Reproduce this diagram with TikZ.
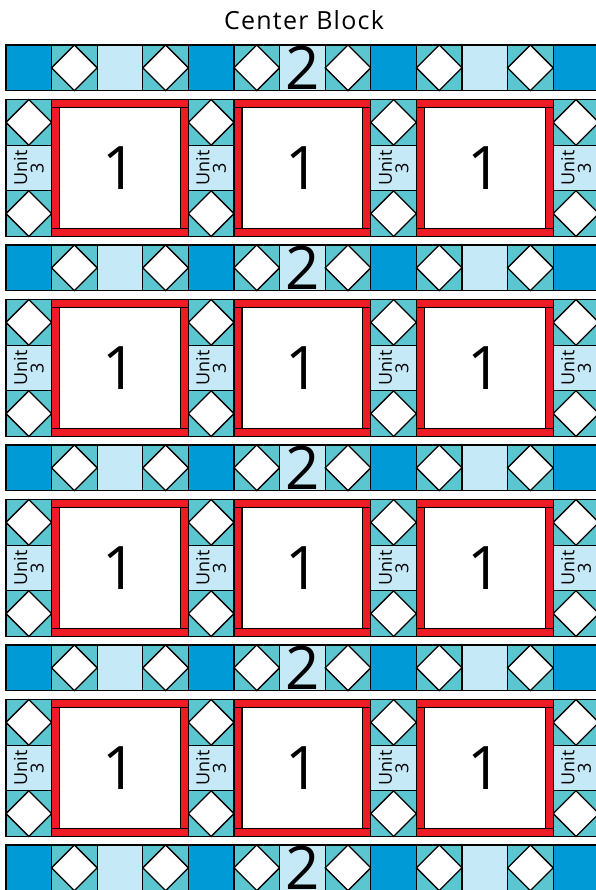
\documentclass[tikz,border=0pt]{standalone}
\usepackage{fontspec}
\setmainfont{Open Sans}
\definecolor{sashdark}{HTML}{009BD7}
\definecolor{sashlight}{HTML}{C6E9F8}
\definecolor{cornerteal}{HTML}{5BC6D0}
\definecolor{framered}{HTML}{ED1C24}

\newcommand{\cell}{45.6}
% teal square with white diamond, top left corner at (#1,#2)
\newcommand{\diamondcell}[2]{%
  \filldraw[patch, fill=cornerteal] (#1,#2) rectangle ++(\cell,\cell);
  \filldraw[patch, fill=white] (#1+\cell/2,#2) -- (#1+\cell,#2+\cell/2)
    -- (#1+\cell/2,#2+\cell) -- (#1,#2+\cell/2) -- cycle;}

\begin{document}
\begin{tikzpicture}[
        x=1pt, y=-1pt,
        patch/.style={draw=black, line width=1.3pt, line join=miter},
        title/.style={font=\fontsize{25}{27}\selectfont\addfontfeatures{LetterSpace=5}, anchor=base},
        numlabel/.style={font=\fontsize{60}{60}\selectfont, inner sep=0pt},
        unitlabel/.style={font=\fontsize{18}{16.5}\selectfont, align=center, rotate=90, inner sep=0pt}
        ]
        \useasboundingbox (0,0) rectangle (596,890);

        \node (title) [title] at (304,29.5) {Center Block};

        % sashing strips
        \foreach \k in {0,...,4} {
            \pgfmathsetmacro{\sy}{45+200*\k}
            \foreach \i in {0,...,12} {
                \pgfmathsetmacro{\sx}{6+\i*\cell}
                \pgfmathtruncatemacro{\m}{mod(\i,4)}
                \ifnum\m=0
                    \filldraw[patch, fill=sashdark] (\sx,\sy) rectangle ++(\cell,\cell);
                \else\ifnum\m=2
                    \filldraw[patch, fill=sashlight] (\sx,\sy) rectangle ++(\cell,\cell);
                \else
                    \diamondcell{\sx}{\sy}
                \fi\fi
            }
            \node (sash\k) [numlabel] at (6+6.5*\cell,\sy+\cell/2) {2};
        }

        % block rows
        \foreach \r in {0,...,3} {
            \pgfmathsetmacro{\by}{99.6+200*\r}
            \foreach \c in {0,...,3} {
                \pgfmathsetmacro{\ux}{6+\c*4*\cell}
                \diamondcell{\ux}{\by}
                \filldraw[patch, fill=sashlight] (\ux,\by+\cell) rectangle ++(\cell,\cell);
                \diamondcell{\ux}{\by+2*\cell}
                \node (unit\r\c) [unitlabel] at (\ux+\cell/2,\by+1.5*\cell) {Unit\\3};
            }
            \foreach \c in {0,...,2} {
                \pgfmathsetmacro{\bx}{6+\c*4*\cell+\cell}
                \filldraw[patch, fill=framered] (\bx,\by) rectangle ++(3*\cell,8);
                \filldraw[patch, fill=framered] (\bx,\by+3*\cell-8) rectangle ++(3*\cell,8);
                \filldraw[patch, fill=framered] (\bx,\by+8) rectangle (\bx+8,\by+3*\cell-8);
                \filldraw[patch, fill=framered] (\bx+3*\cell-8,\by+8) rectangle (\bx+3*\cell,\by+3*\cell-8);
                \filldraw[patch, fill=white] (\bx+8,\by+8) rectangle (\bx+3*\cell-8,\by+3*\cell-8);
                \node (block\r\c) [numlabel] at (\bx+1.5*\cell,\by+1.5*\cell) {1};
            }
        }
    \end{tikzpicture}
\end{document}
